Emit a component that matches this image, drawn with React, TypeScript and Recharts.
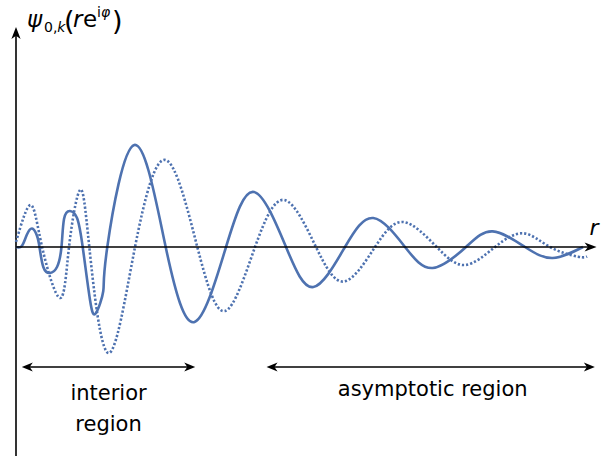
import React from "react";
import { LineChart, Line, XAxis, YAxis, ReferenceLine } from "recharts";

// radius r (arbitrary units) and wave amplitude
const solidR = [0, 0.1, 0.185, 0.276, 0.357, 0.405, 0.471, 0.586, 0.707, 0.784, 0.828, 0.931, 1.052, 1.15, 1.276, 1.379, 1.505, 1.574, 2.04, 2.581, 3.078, 3.621, 4.103, 4.655, 5.126, 5.672, 6.16, 6.707, 7.184, 7.759, 8.219, 8.776, 9.253, 9.776];
const solidPsi = [0, 0.01, 0.12, 0.185, 0.12, 0, -0.2, -0.26, -0.2, 0, 0.28, 0.36, 0.29, 0, -0.53, -0.66, -0.44, 0, 1.02, 0, -0.75, 0, 0.55, 0, -0.4, 0, 0.29, 0, -0.21, 0, 0.156, 0, -0.11, 0];

const dottedR = [0, 0.253, 0.45, 0.759, 0.914, 1.103, 1.264, 1.591, 2.052, 2.581, 3.126, 3.603, 4.121, 4.626, 5.172, 5.655, 6.19, 6.678, 7.253, 7.741, 8.259, 8.747, 9.207, 9.69, 9.845];
const dottedPsi = [0.05, 0.42, 0, -0.51, 0, 0.57, 0, -1.06, 0, 0.87, 0, -0.64, 0, 0.47, 0, -0.345, 0, 0.25, 0, -0.18, 0, 0.137, 0, -0.097, -0.095];

const regionNames = [["interior", "region"], ["asymptotic region"]];
const regionFrom = [0.1, 4.32];
const regionTo = [3.09, 9.98];

const solidData = solidR.map((r, i) => ({ r, psi: solidPsi[i] }));
const dottedData = dottedR.map((r, i) => ({ r, psi: dottedPsi[i] }));

const BLUE = "#4e72b0";
const FONT = "'DejaVu Sans', sans-serif";

function arrowHead(x: number, y: number, angle: number, len = 12, half = 4.6) {
  const c = Math.cos(angle);
  const s = Math.sin(angle);
  const pt = (dx: number, dy: number) => `${x + dx * c - dy * s},${y + dx * s + dy * c}`;
  return `M${pt(0, 0)} L${pt(-len, -half)} L${pt(-len * 0.72, 0)} L${pt(-len, half)} Z`;
}

const XAxisShape = (p: any) => (
  <g>
    <line x1={p.x1} y1={p.y1} x2={p.x2 - 6} y2={p.y2} stroke="#000" strokeWidth={1.6} />
    <path d={arrowHead(p.x2, p.y2, 0)} fill="#000" />
    <text x={p.x2 - 7} y={p.y2 - 12} fontFamily={FONT} fontStyle="italic" fontSize={22}>
      r
    </text>
  </g>
);

const YAxisShape = (p: any) => {
  const top = Math.min(p.y1, p.y2);
  const bottom = Math.max(p.y1, p.y2);
  const x0 = p.x1;
  return (
    <g>
      <line x1={x0} y1={bottom} x2={x0} y2={top + 6} stroke="#000" strokeWidth={1.6} />
      <path d={arrowHead(x0, top, -Math.PI / 2)} fill="#000" />
      <g fontFamily={FONT} fill="#000">
        <text x={x0 + 11} y={top} fontSize={23} fontStyle="italic">ψ</text>
        <text x={x0 + 28} y={top + 5} fontSize={14}>
          0,<tspan fontStyle="italic">k</tspan>
        </text>
        <text x={x0 + 48} y={top + 3} fontSize={27}>(</text>
        <text x={x0 + 57} y={top} fontSize={23} fontStyle="italic">r</text>
        <text x={x0 + 67} y={top} fontSize={23}>e</text>
        <text x={x0 + 81} y={top - 10} fontSize={14}>
          i<tspan fontStyle="italic">φ</tspan>
        </text>
        <text x={x0 + 96} y={top + 3} fontSize={27}>)</text>
      </g>
    </g>
  );
};

const regionShape = (lines: string[]) => (p: any) => {
  const cx = (p.x1 + p.x2) / 2;
  return (
    <g>
      <line x1={p.x1 + 6} y1={p.y1} x2={p.x2 - 6} y2={p.y2} stroke="#000" strokeWidth={1.6} />
      <path d={arrowHead(p.x1, p.y1, Math.PI, 11, 4.6)} fill="#000" />
      <path d={arrowHead(p.x2, p.y2, 0, 11, 4.6)} fill="#000" />
      {lines.map((t, i) => (
        <text
          key={t}
          x={lines.length > 1 ? cx : cx + 2}
          y={p.y1 + (lines.length > 1 ? 33 + i * 31 : 29)}
          textAnchor="middle"
          fontFamily={FONT}
          fontSize={21}
          fill="#000"
        >
          {t}
        </text>
      ))}
    </g>
  );
};

export default function App() {
  return (
    <div style={{ position: "absolute", left: 0, top: 0, width: 608, height: 456, background: "#fff" }}>
      <LineChart width={608} height={456} margin={{ top: 0, right: 12, bottom: 0, left: 16 }}>
        <XAxis type="number" dataKey="r" domain={[0, 10]} hide allowDuplicatedCategory={false} />
        <YAxis type="number" domain={[-2.09, 2.47]} hide />
        <ReferenceLine
          segment={[{ x: 0, y: -2.09 }, { x: 0, y: 2.2 }]}
          ifOverflow="visible"
          shape={YAxisShape}
        />
        {regionNames.map((name, i) => (
          <ReferenceLine
            key={name[0]}
            segment={[{ x: regionFrom[i], y: -1.2 }, { x: regionTo[i], y: -1.2 }]}
            ifOverflow="visible"
            shape={regionShape(name)}
          />
        ))}
        <Line
          data={dottedData}
          dataKey="psi"
          type="natural"
          stroke={BLUE}
          strokeWidth={2.6}
          strokeDasharray="2.2 2"
          dot={false}
          activeDot={false}
          isAnimationActive={false}
        />
        <Line
          data={solidData}
          dataKey="psi"
          type="natural"
          stroke={BLUE}
          strokeWidth={2.6}
          dot={false}
          activeDot={false}
          isAnimationActive={false}
        />
        <ReferenceLine
          segment={[{ x: 0, y: 0 }, { x: 10.01, y: 0 }]}
          ifOverflow="visible"
          shape={XAxisShape}
        />
      </LineChart>
    </div>
  );
}
